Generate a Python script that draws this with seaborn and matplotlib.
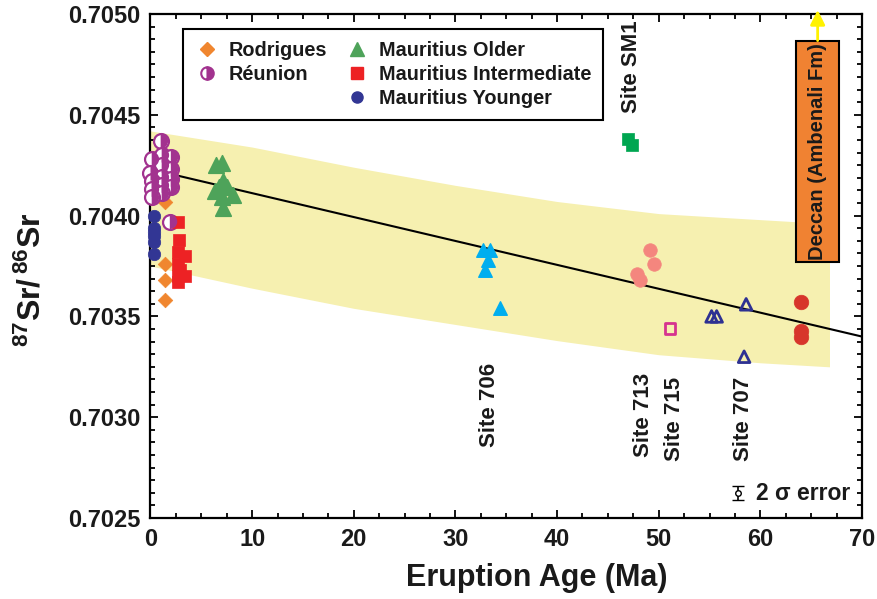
import matplotlib
matplotlib.use("Agg")
import numpy as np
import pandas as pd
import seaborn as sns
import matplotlib.pyplot as plt
import matplotlib.patches as mpatches
from matplotlib.lines import Line2D
from matplotlib.markers import MarkerStyle
from matplotlib.ticker import MultipleLocator, FormatStrFormatter

# ---------------- data ----------------
rod_age = [1.43, 1.43, 1.43, 1.43]
rod_sr = [0.70407, 0.70376, 0.70368, 0.70358]

reu_age = [1.0, 0.12, 1.1, 2.0, 1.1, 2.0, 0.0, 1.1, 2.0, 0.12, 1.1, 2.0, 0.12, 1.1, 0.12, 1.9]
reu_sr = [0.70437, 0.70428, 0.70430, 0.70429, 0.70425, 0.70423, 0.70421, 0.70419,
          0.70418, 0.70417, 0.70415, 0.70414, 0.70413, 0.70411, 0.70409, 0.70397]

mo_age = [6.45, 7.0, 7.15, 6.7, 6.35, 7.5, 8.15, 7.0, 7.15]
mo_sr = [0.70425, 0.70426, 0.70417, 0.70414, 0.70412, 0.70414, 0.70410, 0.70409, 0.70404]

mi_age = [2.7, 2.85, 2.7, 3.4, 2.7, 2.95, 2.7, 3.4, 2.7]
mi_sr = [0.70397, 0.70388, 0.70382, 0.70380, 0.70376, 0.70373, 0.70370, 0.70370, 0.70367]

my_age = [0.35, 0.35, 0.35, 0.35, 0.35, 0.3]
my_sr = [0.70400, 0.70394, 0.70392, 0.70390, 0.70387, 0.70381]

s706_age = [32.7, 33.4, 33.2, 32.9, 34.4]
s706_sr = [0.70383, 0.70383, 0.70378, 0.70373, 0.70354]

s713_age = [49.1, 49.5, 47.9, 48.2]
s713_sr = [0.70383, 0.70376, 0.70371, 0.70368]

s715_age = [51.1]
s715_sr = [0.70344]

s707_age = [55.2, 55.7, 58.6, 58.4]
s707_sr = [0.70350, 0.70350, 0.70356, 0.70330]

deep_age = [64.0, 64.0, 64.0]
deep_sr = [0.70357, 0.70343, 0.70340]

sm1_age = [47.0, 47.4]
sm1_sr = [0.70438, 0.70435]

line_age = [0, 70]
line_sr = [0.70423, 0.70340]

band_age = [0, 10, 20, 30, 40, 50, 60, 66.8]
band_upper = [0.70442, 0.70434, 0.70424, 0.70415, 0.70407, 0.70401, 0.70398, 0.70396]
band_lower = [0.70375, 0.70364, 0.70354, 0.70346, 0.70338, 0.70331, 0.70327, 0.70325]

deccan_age = [63.5, 67.77]
deccan_sr = [0.703771, 0.704868]

legend_labels = ["Rodrigues", "Réunion", "Mauritius Older",
                 "Mauritius Intermediate", "Mauritius Younger"]
site_labels = ["Site SM1", "Site 706", "Site 713", "Site 715", "Site 707"]
site_pos_age = [47.3, 33.4, 48.5, 51.6, 58.3]
site_pos_sr = [0.70474, 0.70306, 0.70301, 0.70299, 0.70299]

yticks = [0.7025, 0.7030, 0.7035, 0.7040, 0.7045, 0.7050]
xticks = [0, 10, 20, 30, 40, 50, 60, 70]

# ---------------- style ----------------
sns.set_theme(style="white")
plt.rcParams["font.family"] = ["Liberation Sans", "DejaVu Sans"]
plt.rcParams["mathtext.fontset"] = "custom"
plt.rcParams["mathtext.rm"] = "Liberation Sans"
plt.rcParams["mathtext.bf"] = "Liberation Sans:bold"
plt.rcParams["mathtext.it"] = "Liberation Sans:italic"

C_ORANGE = "#f0862f"
C_PURPLE = "#a2338f"
C_GREEN = "#4ea35a"
C_RED = "#ed2224"
C_BLUE = "#323694"
C_CYAN = "#00aeef"
C_SALMON = "#f4867e"
C_MAGENTA = "#d6338f"
C_NAVY = "#2e3192"
C_DRED = "#d7352b"
C_SM1 = "#00a651"
C_BAND = "#f6f0b0"
C_DECCAN = "#f08232"
C_ARROW = "#fff200"

fig = plt.figure(figsize=(8.78, 5.99), dpi=100)
ax = fig.add_axes([0.1714, 0.1352, 0.8104, 0.8414])

# band
ax.fill_between(band_age, band_lower, band_upper, color=C_BAND, lw=0, zorder=0)

# regression line
sns.lineplot(x=line_age, y=line_sr, color="black", lw=1.5, ax=ax, zorder=2)


def scat(xs, ys, **kw):
    df = pd.DataFrame({"age": xs, "sr": ys})
    sns.scatterplot(data=df, x="age", y="sr", ax=ax, legend=False,
                    zorder=kw.pop("zorder", 3), clip_on=False, **kw)


scat(rod_age, rod_sr, marker="D", s=55, color=C_ORANGE, edgecolor=C_ORANGE, linewidth=0.5)
# Réunion half-filled circles
scat(reu_age, reu_sr, marker="o", s=115, facecolor="white", edgecolor=C_PURPLE, linewidth=1.6)
scat(reu_age, reu_sr, marker=MarkerStyle("o", fillstyle="right"), s=115,
     color=C_PURPLE, edgecolor="none", linewidth=0, zorder=3.1)
scat(mo_age, mo_sr, marker="^", s=125, color=C_GREEN, edgecolor=C_GREEN, linewidth=1.2)
scat(mi_age, mi_sr, marker="s", s=80, color=C_RED, edgecolor=C_RED, linewidth=0.5)
scat(my_age, my_sr, marker="o", s=80, color=C_BLUE, edgecolor=C_BLUE, linewidth=0.5)
scat(s706_age, s706_sr, marker="^", s=95, color=C_CYAN, edgecolor=C_CYAN, linewidth=1.0)
scat(s713_age, s713_sr, marker="o", s=95, color=C_SALMON, edgecolor=C_SALMON, linewidth=0.5)
scat(s715_age, s715_sr, marker="s", s=60, facecolor="none", edgecolor=C_MAGENTA, linewidth=2.0)
scat(s707_age, s707_sr, marker="^", s=70, facecolor="none", edgecolor=C_NAVY, linewidth=2.0)
scat(deep_age, deep_sr, marker="o", s=110, color=C_DRED, edgecolor=C_DRED, linewidth=0.5)
scat(sm1_age, sm1_sr, marker="s", s=85, color=C_SM1, edgecolor=C_SM1, linewidth=0.5)

# Deccan box and arrow
rect = mpatches.Rectangle((deccan_age[0], deccan_sr[0]), deccan_age[1] - deccan_age[0],
                          deccan_sr[1] - deccan_sr[0], facecolor=C_DECCAN,
                          edgecolor="black", lw=1.5, zorder=4)
ax.add_patch(rect)
dx = (deccan_age[0] + deccan_age[1]) / 2
ax.text(dx, (deccan_sr[0] + deccan_sr[1]) / 2, "Deccan (Ambenali Fm)", rotation=90,
        ha="center", va="center", fontsize=14.5, fontweight="bold", color="#1a1a1a", zorder=5)
ax.annotate("", xy=(dx, 0.70502), xytext=(dx, deccan_sr[1]),
            arrowprops=dict(arrowstyle="-|>", color=C_ARROW, lw=2, mutation_scale=22,
                            shrinkA=0, shrinkB=0), annotation_clip=False, zorder=5)

# site labels
for lab, xa, ya in zip(site_labels, site_pos_age, site_pos_sr):
    ax.text(xa, ya, lab, rotation=90, ha="center", va="center", fontsize=16,
            fontweight="bold", color="#1a1a1a", zorder=5)

# 2 sigma error symbol
ax.errorbar([57.8], [0.702624], yerr=[0.000035], fmt="o", ms=4, mfc="white", mec="black",
            color="black", capsize=4, lw=1.2, zorder=5)
ax.text(59.6, 0.702624, "2 σ error", ha="left", va="center", fontsize=16.5,
        fontweight="bold", color="#1a1a1a")

# axes
ax.set_xlim(0, 70)
ax.set_ylim(0.7025, 0.7050)
ax.set_xticks(xticks)
ax.set_yticks(yticks)
ax.xaxis.set_minor_locator(MultipleLocator(2.5))
ax.yaxis.set_minor_locator(MultipleLocator(0.0000625))
ax.yaxis.set_major_formatter(FormatStrFormatter("%.4f"))
ax.tick_params(which="both", direction="in", top=True, right=True, bottom=True, left=True,
               width=1.3, color="black")
ax.tick_params(which="major", length=6, pad=7)
ax.tick_params(axis="y", which="major", labelsize=17)
ax.tick_params(axis="x", which="major", labelsize=17)
ax.tick_params(which="minor", length=3.5)
for lab in ax.get_xticklabels() + ax.get_yticklabels():
    lab.set_fontweight("bold")
    lab.set_color("#1a1a1a")
for sp in ax.spines.values():
    sp.set_visible(True)
    sp.set_color("black")
    sp.set_linewidth(1.6)
ax.set_xlabel("")
ax.set_ylabel("")
ax.grid(False)

fig.text(536.5 / 878, 1 - 578 / 599, "Eruption Age (Ma)", ha="center", va="center",
         fontsize=22, fontweight="bold", color="#1a1a1a")
fig.text(32 / 878, 1 - 280 / 599, r"$^{\mathbf{87}}\mathbf{Sr/}\,^{\mathbf{86}}\mathbf{Sr}$",
         rotation=90, ha="center", va="center", fontsize=23, color="#1a1a1a")

# legend
handles = [
    Line2D([], [], ls="none", marker="D", ms=7, color=C_ORANGE),
    Line2D([], [], ls="none", marker="o", ms=9, fillstyle="right", markerfacecolor=C_PURPLE,
           markerfacecoloralt="white", markeredgecolor=C_PURPLE, markeredgewidth=1.5),
    Line2D([], [], ls="none", marker=None),
    Line2D([], [], ls="none", marker="^", ms=10, color=C_GREEN),
    Line2D([], [], ls="none", marker="s", ms=8, color=C_RED),
    Line2D([], [], ls="none", marker="o", ms=8, color=C_BLUE),
]
labels = [legend_labels[0], legend_labels[1], "", legend_labels[2], legend_labels[3],
          legend_labels[4]]
leg = ax.legend(handles, labels, ncol=2, loc="upper left", bbox_to_anchor=(0.0457, 0.970),
                borderaxespad=0, frameon=True, fancybox=False, edgecolor="black",
                framealpha=1, prop=dict(family="Liberation Sans", weight="bold", size=14.3),
                handlelength=1.2, handletextpad=0.5, columnspacing=0.9,
                labelspacing=0.25, borderpad=0.6)
leg.get_frame().set_linewidth(1.5)
for t in leg.get_texts():
    t.set_color("#1a1a1a")

fig.savefig("out.png", dpi=100)
